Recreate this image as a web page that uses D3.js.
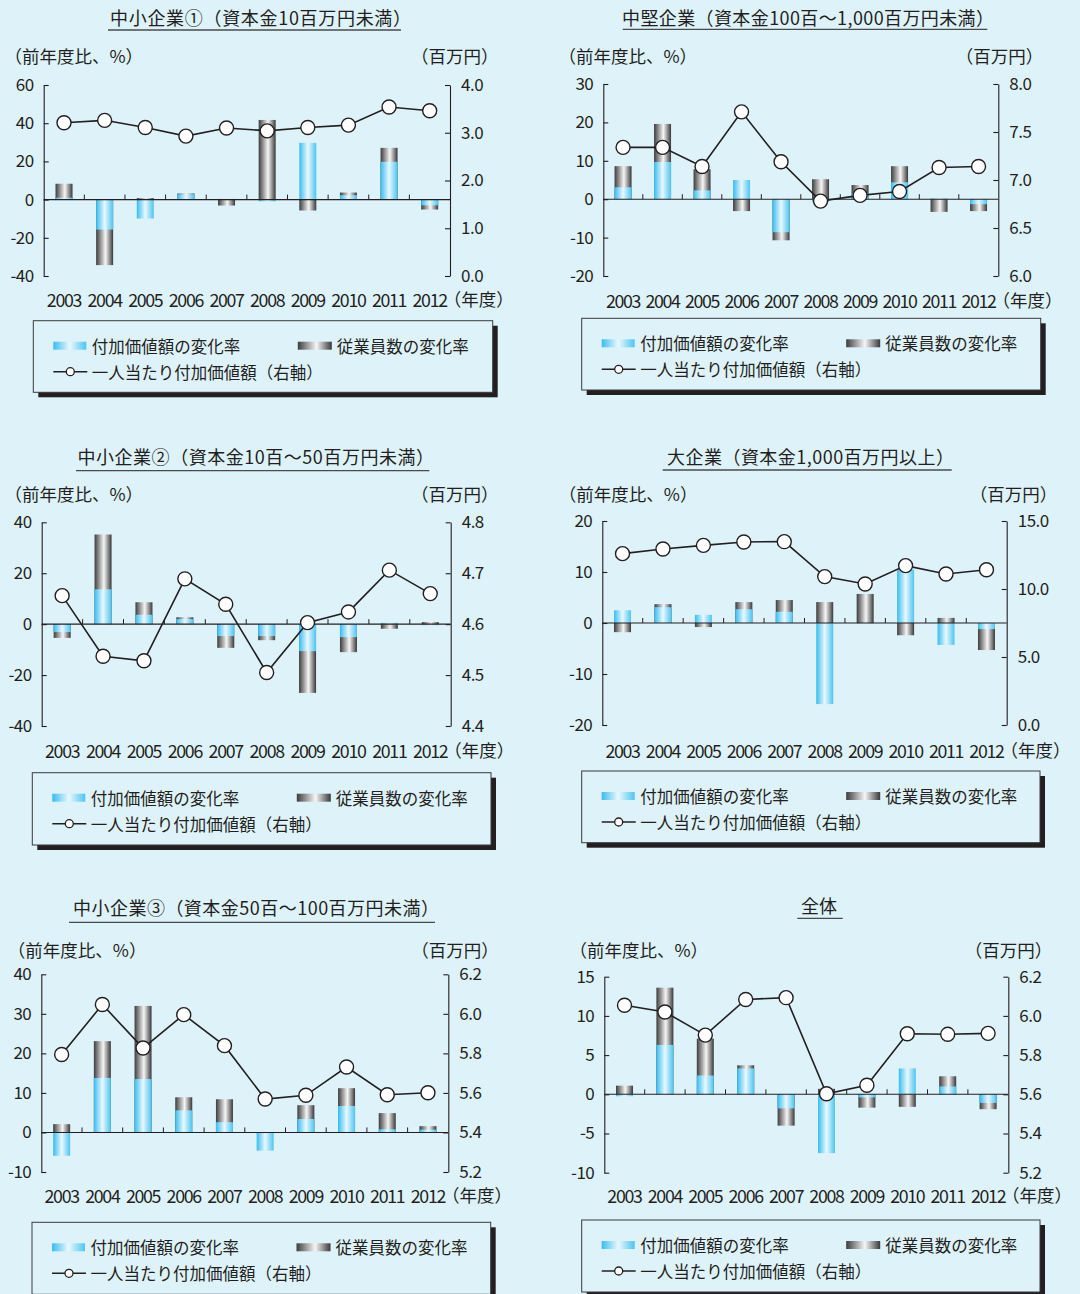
<!DOCTYPE html>
<html><head><meta charset="utf-8">
<script src="https://cdn.jsdelivr.net/npm/d3@7"></script>
<style>
html,body{margin:0;padding:0;background:#def2fa;}
text{font-family:"Noto Sans CJK JP","Noto Sans",sans-serif;fill:#231f20;}
</style></head><body><svg id="c" width="1080" height="1294"></svg>
<script>
// ---------- data ----------
const years = ["2003","2004","2005","2006","2007","2008","2009","2010","2011","2012"];
const titles = ["中小企業①（資本金10百万円未満）","中堅企業（資本金100百～1,000百万円未満）","中小企業②（資本金10百～50百万円未満）","大企業（資本金1,000百万円以上）","中小企業③（資本金50百～100百万円未満）","全体"];
const leftUnit = "（前年度比、%）";
const rightUnit = "（百万円）";
const yearUnit = "（年度）";
const legendLabels = ["付加価値額の変化率","従業員数の変化率","一人当たり付加価値額（右軸）"];

const valueAdded1 = [1.0,-15.7,-9.9,2.8,0.4,-0.9,29.7,2.3,19.8,-3.0];
const employees1  = [8.3,-34.3,0.8,3.2,-3.1,41.7,-5.7,3.7,27.1,-5.2];
const perCapita1  = [3.21,3.26,3.11,2.93,3.10,3.04,3.11,3.16,3.54,3.46];
const leftTicks1 = [-40,-20,0,20,40,60];
const rightTicks1 = [0,1,2,3,4];

const valueAdded2 = [3.1,9.7,2.3,5.0,-8.6,-0.8,1.5,4.4,0.2,-1.3];
const employees2  = [8.6,19.6,7.8,-3.1,-10.7,5.2,3.7,8.6,-3.3,-3.1];
const perCapita2  = [7.34,7.34,7.14,7.71,7.19,6.78,6.84,6.88,7.13,7.14];
const leftTicks2 = [-20,-10,0,10,20,30];
const rightTicks2 = [6.0,6.5,7.0,7.5,8.0];

const valueAdded3 = [-3.1,13.7,3.7,2.0,-4.7,-4.7,-10.6,-5.1,0.5,-0.4];
const employees3  = [-5.4,35.2,8.6,2.7,-9.3,-6.3,-27.0,-11.0,-1.8,0.8];
const perCapita3  = [4.656,4.537,4.528,4.689,4.639,4.505,4.603,4.624,4.706,4.660];
const leftTicks3 = [-40,-20,0,20,40];
const rightTicks3 = [4.4,4.5,4.6,4.7,4.8];

const valueAdded4 = [2.5,3.1,1.6,2.7,2.2,-15.9,-0.1,10.5,-4.3,-1.2];
const employees4  = [-1.8,3.7,-0.8,4.1,4.5,4.1,5.7,-2.4,1.0,-5.3];
const perCapita4  = [12.60,12.94,13.21,13.46,13.48,10.91,10.37,11.72,11.10,11.42];
const leftTicks4 = [-20,-10,0,10,20];
const rightTicks4 = [0,5,10,15];

const valueAdded5 = [-5.9,13.8,13.5,5.6,2.6,-4.6,3.4,6.7,0.8,0.7];
const employees5  = [2.1,23.1,32.0,8.9,8.4,-0.2,6.9,11.2,4.9,1.6];
const perCapita5  = [5.794,6.047,5.827,5.996,5.839,5.569,5.588,5.731,5.591,5.601];
const leftTicks5 = [-10,0,10,20,30,40];
const rightTicks5 = [5.2,5.4,5.6,5.8,6.0,6.2];

const valueAdded6 = [-0.25,6.3,2.4,3.3,-1.8,-7.5,-0.4,3.3,1.0,-1.1];
const employees6  = [1.1,13.6,7.1,3.7,-4.0,0.7,-1.7,-1.6,2.3,-1.9];
const perCapita6  = [6.054,6.020,5.902,6.084,6.093,5.603,5.646,5.909,5.906,5.911];
const leftTicks6 = [-10,-5,0,5,10,15];
const rightTicks6 = [5.2,5.4,5.6,5.8,6.0,6.2];

// ---------- layout (positions only) ----------
const layout = [
  {L:43.7,R:450,T:85,B:276,yearsY:298.5,titleX:110,titleW:301,titleY:16.5,ul:[108,401,30],unitY:55,leftInk:15,rightInk:488,lg:[33.3,320.7,459.4,71.6]},
  {L:603.3,R:998.3,T:84,B:276,yearsY:299.5,titleX:622,titleW:372,titleY:16.5,ul:[622.7,987.3,29.3],unitY:55,leftInk:569,rightInk:1032.7,lg:[581.7,318.3,459,71.7]},
  {L:41.7,R:450.7,T:522.3,B:726,yearsY:749.5,titleX:77.5,titleW:356.5,titleY:456,ul:[76,429.3,470.7],unitY:493,leftInk:15,rightInk:488,lg:[32.3,772.7,458.7,72.3]},
  {L:602.3,R:1006.7,T:521,B:725,yearsY:749.5,titleX:667,titleW:287,titleY:456,ul:[662.7,951.7,470],unitY:493,leftInk:569.3,rightInk:1046.7,lg:[581.7,771,458.3,71.7]},
  {L:41.3,R:448.3,T:974.3,B:1172,yearsY:1194.5,titleX:73,titleW:366,titleY:907.3,ul:[69,435,922.3],unitY:949.3,leftInk:18.3,rightInk:488.3,lg:[32,1222.3,458.7,72]},
  {L:604.3,R:1008.3,T:976.7,B:1172.7,yearsY:1194.5,titleX:801,titleW:0,titleY:905,ul:[797.3,842.7,918.3],unitY:949.3,leftInk:580,rightInk:1041.7,lg:[581.7,1220,458.3,72]}
];

const panels = [
  {va:valueAdded1,em:employees1,pc:perCapita1,lt:leftTicks1,rt:rightTicks1},
  {va:valueAdded2,em:employees2,pc:perCapita2,lt:leftTicks2,rt:rightTicks2},
  {va:valueAdded3,em:employees3,pc:perCapita3,lt:leftTicks3,rt:rightTicks3},
  {va:valueAdded4,em:employees4,pc:perCapita4,lt:leftTicks4,rt:rightTicks4},
  {va:valueAdded5,em:employees5,pc:perCapita5,lt:leftTicks5,rt:rightTicks5},
  {va:valueAdded6,em:employees6,pc:perCapita6,lt:leftTicks6,rt:rightTicks6}
];

// ---------- drawing ----------
const INK = "#231f20";
const svg = d3.select("#c");
svg.append("rect").attr("width",1080).attr("height",1294).attr("fill","#def2fa");
const defs = svg.append("defs");
function grad(id, stops){
  const g = defs.append("linearGradient").attr("id",id).attr("x1",0).attr("x2",1).attr("y1",0).attr("y2",0);
  stops.forEach(s=>g.append("stop").attr("offset",s[0]).attr("stop-color",s[1]));
}
grad("gBlue",[[0,"#36bdf0"],[0.5,"#eaf8fd"],[1,"#4cc5f1"]]);
grad("gGray",[[0,"#3c3c3c"],[0.55,"#f6f6f6"],[1,"#383838"]]);

const BW = 17;
const FS = 17.5;
const NFS = 17;      // numeric tick labels
const YFS = 17.8;    // year labels
const NLS = -1.3;    // letter spacing for year numerals

panels.forEach((p,i)=>{
  const lo = layout[i];
  const g = svg.append("g");
  const x = d3.scaleBand().domain(years).range([lo.L,lo.R]).padding(0);
  const y = d3.scaleLinear().domain(d3.extent(p.lt)).range([lo.B,lo.T]);
  const y2 = d3.scaleLinear().domain(d3.extent(p.rt)).range([lo.B,lo.T]);
  const cx = d => x(d) + x.bandwidth()/2;

  // title + underline
  const t = g.append("text").attr("x",lo.titleX).attr("y",lo.titleY).attr("dominant-baseline","central")
    .attr("font-size",18).text(titles[i]);
  if (lo.titleW) t.attr("textLength",lo.titleW).attr("lengthAdjust","spacing");
  g.append("line").attr("x1",lo.ul[0]).attr("x2",lo.ul[1]).attr("y1",lo.ul[2]).attr("y2",lo.ul[2])
    .attr("stroke","#4a4a4a").attr("stroke-width",1.3);

  // unit labels
  g.append("text").attr("x",lo.leftInk-0.6*FS).attr("y",lo.unitY).attr("dominant-baseline","central")
    .attr("font-size",FS).text(leftUnit);
  g.append("text").attr("x",lo.rightInk+0.6*FS).attr("y",lo.unitY).attr("dominant-baseline","central")
    .attr("text-anchor","end").attr("font-size",FS).text(rightUnit);

  // axes
  const ax = g.append("g").attr("transform",`translate(${lo.L},0)`)
    .call(d3.axisLeft(y).tickValues(p.lt).tickFormat(d=>String(d)).tickSizeInner(-5).tickSizeOuter(0).tickPadding(10));
  const ax2 = g.append("g").attr("transform",`translate(${lo.R},0)`)
    .call(d3.axisRight(y2).tickValues(p.rt).tickFormat(d3.format(".1f")).tickSizeInner(-5).tickSizeOuter(0).tickPadding(11));
  [ax,ax2].forEach(a=>{
    a.attr("font-size",NFS).attr("color",INK);
    a.selectAll("text").attr("letter-spacing",-0.5);
    a.selectAll("path,line").attr("stroke-width",1.1);
  });

  // bars: employees behind, value added in front
  const rows = years.map((yr,k)=>({yr, va:p.va[k], em:p.em[k], pc:p.pc[k]}));
  g.append("g").selectAll("rect").data(rows).join("rect")
    .attr("x",d=>cx(d.yr)-BW/2).attr("width",BW)
    .attr("y",d=>y(Math.max(0,d.em))).attr("height",d=>Math.abs(y(d.em)-y(0)))
    .attr("fill","url(#gGray)");
  g.append("g").selectAll("rect").data(rows).join("rect")
    .attr("x",d=>cx(d.yr)-BW/2).attr("width",BW)
    .attr("y",d=>y(Math.max(0,d.va))).attr("height",d=>Math.abs(y(d.va)-y(0)))
    .attr("fill","url(#gBlue)");

  // zero line and category ticks
  const y0 = y(0);
  g.append("line").attr("x1",lo.L).attr("x2",lo.R).attr("y1",y0).attr("y2",y0).attr("stroke",INK).attr("stroke-width",1.1);
  g.append("g").selectAll("line").data(years.slice(1)).join("line")
    .attr("x1",d=>x(d)).attr("x2",d=>x(d)).attr("y1",y0-5).attr("y2",y0)
    .attr("stroke",INK).attr("stroke-width",1);

  // year labels
  g.append("g").selectAll("text").data(years).join("text")
    .attr("x",d=>cx(d)).attr("y",lo.yearsY).attr("text-anchor","middle").attr("dominant-baseline","central")
    .attr("font-size",YFS).attr("letter-spacing",NLS).text(d=>d);
  g.append("text").attr("x",cx(years[years.length-1])+14).attr("y",lo.yearsY).attr("dominant-baseline","central")
    .attr("font-size",FS).text(yearUnit);

  // per-capita line
  g.append("path").datum(rows)
    .attr("d",d3.line().x(d=>cx(d.yr)).y(d=>y2(d.pc)))
    .attr("fill","none").attr("stroke",INK).attr("stroke-width",1.6);
  g.append("g").selectAll("circle").data(rows).join("circle")
    .attr("cx",d=>cx(d.yr)).attr("cy",d=>y2(d.pc)).attr("r",7)
    .attr("fill","#fff").attr("stroke",INK).attr("stroke-width",1.4);

  // legend
  const [bx,by,bw,bh] = lo.lg;
  const lg = g.append("g").attr("transform",`translate(${bx},${by})`);
  lg.append("rect").attr("x",5).attr("y",5).attr("width",bw).attr("height",bh).attr("fill",INK);
  lg.append("rect").attr("x",0).attr("y",0).attr("width",bw).attr("height",bh).attr("fill","#def2fa")
    .attr("stroke","#3a3a3a").attr("stroke-width",1);
  lg.append("rect").attr("x",20).attr("y",21).attr("width",33).attr("height",8).attr("fill","url(#gBlue)");
  lg.append("text").attr("x",58.5).attr("y",25).attr("dominant-baseline","central").attr("font-size",16.5).text(legendLabels[0]);
  lg.append("rect").attr("x",264.5).attr("y",21).attr("width",34).attr("height",8).attr("fill","url(#gGray)");
  lg.append("text").attr("x",303.5).attr("y",25).attr("dominant-baseline","central").attr("font-size",16.5).text(legendLabels[1]);
  lg.append("line").attr("x1",20).attr("x2",54).attr("y1",51).attr("y2",51).attr("stroke",INK).attr("stroke-width",1.6);
  lg.append("circle").attr("cx",37).attr("cy",51).attr("r",4).attr("fill","#fff").attr("stroke",INK).attr("stroke-width",1.3);
  lg.append("text").attr("x",58.5).attr("y",51).attr("dominant-baseline","central").attr("font-size",16.5).text(legendLabels[2]);
});
</script></body></html>
